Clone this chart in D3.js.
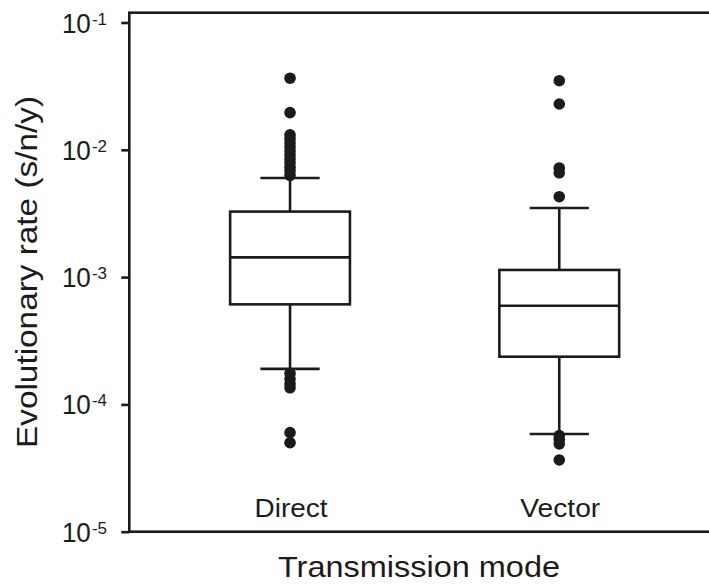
<!DOCTYPE html>
<html>
<head>
<meta charset="utf-8">
<script src="https://cdn.jsdelivr.net/npm/d3@7"></script>
<style>
  html, body { margin: 0; padding: 0; background: #fff; }
  svg { display: block; font-family: "Liberation Sans", Arial, sans-serif; }
</style>
</head>
<body>
<svg id="chart" width="709" height="584"></svg>
<script>
// ---- data ----
const categories = ["Direct", "Vector"];
const whiskerLow = [0.00019, 0.0000585];
const q1 = [0.000611, 0.000237];
const median = [0.00143, 0.000596];
const q3 = [0.00327, 0.001138];
const whiskerHigh = [0.0060, 0.00349];
const outliersDirect = [0.0365, 0.0196, 0.0131, 0.0122, 0.0113, 0.0105, 0.0098, 0.0091,
  0.0085, 0.0079, 0.0073, 0.0068, 0.0063,
  0.000175, 0.000158, 0.000145, 0.000135, 0.000060, 0.000050];
const outliersVector = [0.0349, 0.0229, 0.0072, 0.0066, 0.00428,
  0.000057, 0.000053, 0.000049, 0.0000366];
const tickValues = [1e-1, 1e-2, 1e-3, 1e-4, 1e-5];
const tickExponents = ["-1", "-2", "-3", "-4", "-5"];
const yTitle = "Evolutionary rate (s/n/y)";
const xTitle = "Transmission mode";

(function () {
// ---- layout ----
const svg = d3.select("#chart");
const mLeft = 129.3, mRight = 720, mTop = 12.7, mBottom = 531.7;
const ink = "#1b1b1b";
const lw = 2.6;

const y = d3.scaleLog().domain([1e-5, 0.1194]).range([mBottom, mTop]);
const x = d3.scalePoint().domain(categories).range([mLeft, mRight]).padding(0.597);
const step = x.step();
const boxW = step * 0.445;
const capW = step * 0.22;

// frame
svg.append("rect")
  .attr("x", mLeft).attr("y", mTop)
  .attr("width", mRight - mLeft).attr("height", mBottom - mTop)
  .attr("fill", "none").attr("stroke", ink).attr("stroke-width", lw);

// y axis ticks
const axis = svg.append("g")
  .attr("transform", `translate(${mLeft},0)`)
  .call(d3.axisLeft(y).tickValues(tickValues).tickSize(8).tickFormat(""));
axis.select(".domain").remove();
axis.selectAll(".tick line").attr("stroke", ink).attr("stroke-width", lw);

// tick labels (10 with superscript exponent)
const labels = svg.append("g");
tickValues.forEach((v, i) => {
  const t = labels.append("text")
    .attr("x", 107).attr("y", y(v) + 10)
    .attr("text-anchor", "end")
    .attr("fill", ink)
    .attr("font-size", 27);
  t.append("tspan").attr("textLength", 29).attr("lengthAdjust", "spacingAndGlyphs").text("10");
  t.append("tspan").attr("font-size", 17).attr("dy", -8).attr("dx", 1).text(tickExponents[i]);
});

// boxes
const g = svg.append("g");
categories.forEach((c, i) => {
  const cx = x(c);
  g.append("line").attr("x1", cx).attr("x2", cx)
    .attr("y1", y(whiskerHigh[i])).attr("y2", y(q3[i]))
    .attr("stroke", ink).attr("stroke-width", lw);
  g.append("line").attr("x1", cx).attr("x2", cx)
    .attr("y1", y(q1[i])).attr("y2", y(whiskerLow[i]))
    .attr("stroke", ink).attr("stroke-width", lw);
  [whiskerHigh[i], whiskerLow[i]].forEach(v => {
    g.append("line").attr("x1", cx - capW / 2).attr("x2", cx + capW / 2)
      .attr("y1", y(v)).attr("y2", y(v))
      .attr("stroke", ink).attr("stroke-width", lw);
  });
  g.append("rect")
    .attr("x", cx - boxW / 2).attr("y", y(q3[i]))
    .attr("width", boxW).attr("height", y(q1[i]) - y(q3[i]))
    .attr("fill", "#fff").attr("stroke", ink).attr("stroke-width", lw);
  g.append("line").attr("x1", cx - boxW / 2).attr("x2", cx + boxW / 2)
    .attr("y1", y(median[i])).attr("y2", y(median[i]))
    .attr("stroke", ink).attr("stroke-width", lw);
});

// outliers
const outliers = [outliersDirect, outliersVector];
categories.forEach((c, i) => {
  g.selectAll(null).data(outliers[i]).enter().append("circle")
    .attr("cx", x(c)).attr("cy", d => y(d)).attr("r", 5.8)
    .attr("fill", ink);
});

// category labels
categories.forEach((c, i) => {
  svg.append("text")
    .attr("x", x(c) + 1).attr("y", 517)
    .attr("text-anchor", "middle")
    .attr("font-size", 26).attr("fill", ink)
    .attr("textLength", c === "Direct" ? 73 : 80)
    .attr("lengthAdjust", "spacingAndGlyphs")
    .text(c);
});

// axis titles
svg.append("text")
  .attr("x", 419).attr("y", 577)
  .attr("text-anchor", "middle")
  .attr("font-size", 30).attr("fill", ink)
  .attr("textLength", 282).attr("lengthAdjust", "spacingAndGlyphs")
  .text(xTitle);

svg.append("text")
  .attr("transform", "translate(37,272) rotate(-90)")
  .attr("text-anchor", "middle")
  .attr("font-size", 30).attr("fill", ink)
  .attr("textLength", 352).attr("lengthAdjust", "spacingAndGlyphs")
  .text(yTitle);
})();
</script>
</body>
</html>
